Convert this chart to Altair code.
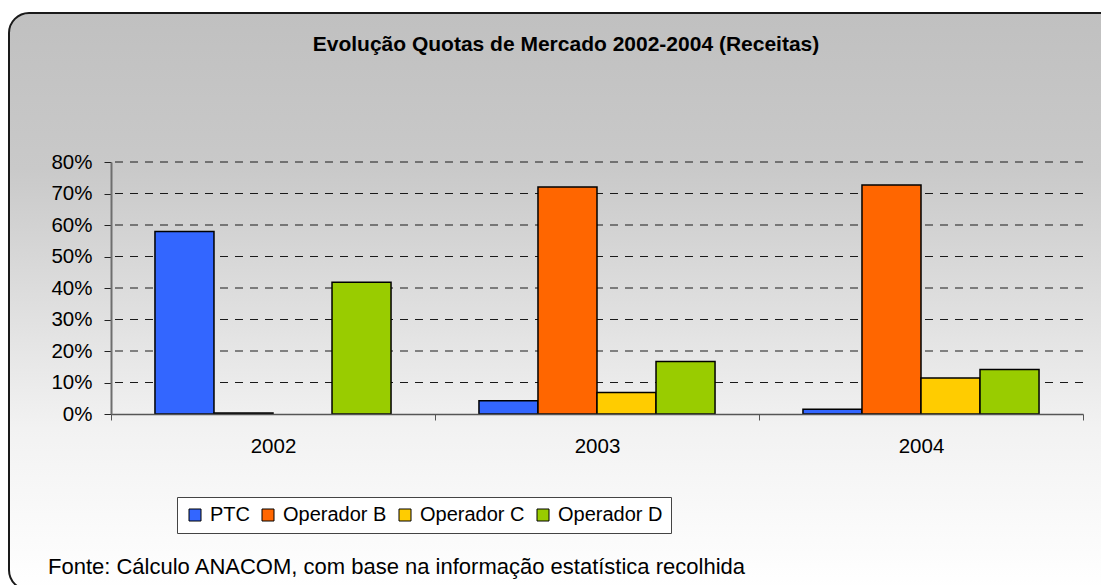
import altair as alt
import pandas as pd

years = ["2002", "2003", "2004"]
series = ["PTC", "Operador B", "Operador C", "Operador D"]
ptc = [0.579, 0.042, 0.015]
op_b = [0.003, 0.721, 0.727]
op_c = [0.0, 0.068, 0.114]
op_d = [0.418, 0.167, 0.141]
colors = ["#3366FF", "#FF6600", "#FFCC00", "#99CC00"]
y_ticks = [0.0, 0.1, 0.2, 0.3, 0.4, 0.5, 0.6, 0.7, 0.8]
title_text = "Evolução Quotas de Mercado 2002-2004 (Receitas)"
footer_text = "Fonte: Cálculo ANACOM, com base na informação estatística recolhida"

rows = []
for name, vals in zip(series, [ptc, op_b, op_c, op_d]):
    for yr, v in zip(years, vals):
        rows.append({"ano": yr, "serie": name, "quota": v})
df = pd.DataFrame(rows)

FONT = "Liberation Sans"
W, H = 972, 252
yscale = alt.Scale(domain=[0, 0.8], nice=False)
yaxis = alt.Axis(title=None, format=".0%", values=y_ticks, grid=False,
                 tickSize=7, tickColor="#222222", domainColor="#6e6e6e",
                 domainWidth=2, labelFontSize=20.5, labelFont=FONT,
                 labelColor="black", labelPadding=12, zindex=1)

bg = alt.Chart(pd.DataFrame({"k": [0]})).mark_rect(
    fill=alt.Gradient(
        gradient="linear", x1=0, x2=0, y1=0, y2=1,
        stops=[
            alt.GradientStop(color="#c0c0c0", offset=0),
            alt.GradientStop(color="#c9c9c9", offset=0.27),
            alt.GradientStop(color="#f2f2f2", offset=0.72),
            alt.GradientStop(color="#ffffff", offset=1),
        ],
    ),
    stroke="#1a1a1a", strokeWidth=2, cornerRadius=20,
).encode(x=alt.value(-102), x2=alt.value(1040), y=alt.value(-149), y2=alt.value(428))

grid = alt.Chart(pd.DataFrame({"quota": y_ticks[1:]})).mark_rule(
    strokeDash=[8, 7], color="#1a1a1a", strokeWidth=1
).encode(y=alt.Y("quota:Q", scale=yscale, axis=yaxis))

bars = alt.Chart(df).transform_filter(alt.datum.quota > 0).mark_bar(
    stroke="black", strokeWidth=1.5
).encode(
    x=alt.X("ano:N", sort=years, scale=alt.Scale(paddingInner=0, paddingOuter=0),
            axis=alt.Axis(title=None, labelAngle=0, tickBand="extent", tickSize=6,
                          tickColor="#555555", domainColor="#555555", domainWidth=1.5,
                          labelFontSize=20.5, labelFont=FONT, labelColor="black",
                          labelPadding=16, grid=False, zindex=1)),
    xOffset=alt.XOffset("serie:N", sort=series,
                        scale=alt.Scale(domain=series, paddingInner=0, paddingOuter=0.745)),
    y=alt.Y("quota:Q", scale=yscale, axis=yaxis),
    color=alt.Color("serie:N", sort=series,
                    scale=alt.Scale(domain=series, range=colors),
                    legend=alt.Legend(title=None, orient="none", legendX=66, legendY=335,
                                      direction="horizontal", symbolType="square",
                                      symbolSize=144, symbolStrokeColor="black",
                                      symbolStrokeWidth=1, symbolOpacity=1,
                                      labelFontSize=20, labelFont=FONT, labelColor="black",
                                      padding=8, strokeColor="#444444", fillColor="white",
                                      columnPadding=8, labelOffset=5)),
)

title_t = alt.Chart(pd.DataFrame({"t": [title_text]})).mark_text(
    font=FONT, fontSize=21, fontWeight="bold", color="black", align="center", baseline="middle"
).encode(text="t:N", x=alt.value(455), y=alt.value(-117))

footer_t = alt.Chart(pd.DataFrame({"t": [footer_text]})).mark_text(
    font=FONT, fontSize=22, color="black", align="left", baseline="middle"
).encode(text="t:N", x=alt.value(-63), y=alt.value(405))

chart = alt.layer(bg, grid, bars, title_t, footer_t).properties(
    width=W, height=H,
    autosize=alt.AutoSizeParams(type="none"),
    padding={"left": 103, "top": 154, "right": 18, "bottom": 171},
).configure_view(stroke=None)

chart.save("out.html", embed_options={"renderer": "svg", "actions": False})
